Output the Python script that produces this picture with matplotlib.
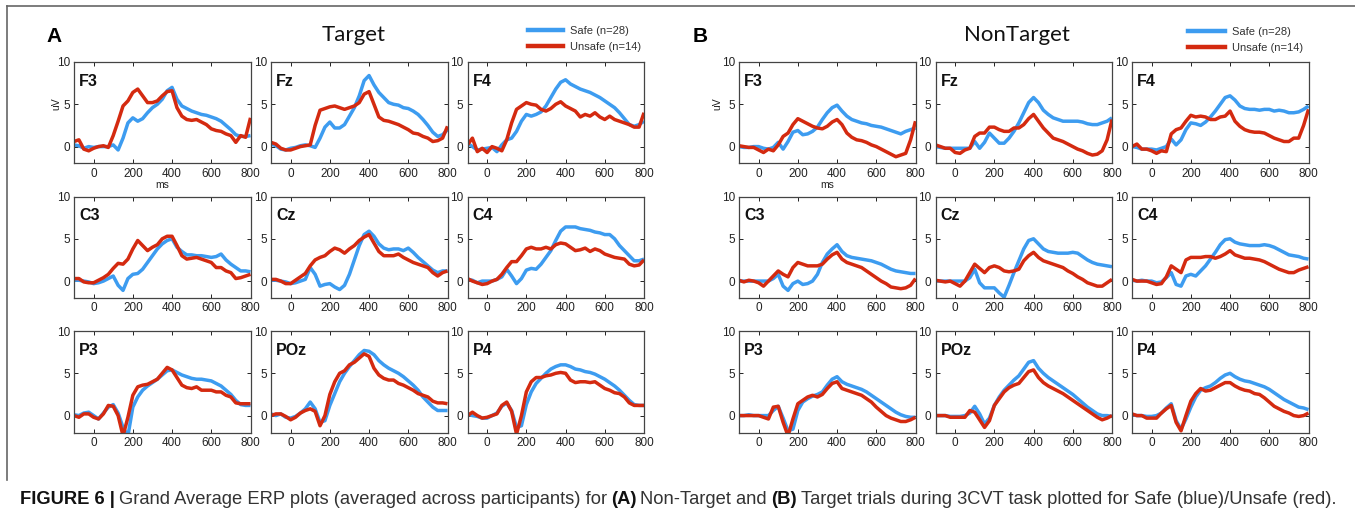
import matplotlib
matplotlib.use('Agg')
import matplotlib.pyplot as plt
from matplotlib.lines import Line2D
from matplotlib import font_manager

# time axis (ms), one value every 25 ms
t_ms = list(range(-100, 801, 25))

electrodes = ['F3', 'Fz', 'F4', 'C3', 'Cz', 'C4', 'P3', 'POz', 'P4']

# ---------------- Target (panel A) ----------------
tgt_F3_safe = [0.2, 0.1, -0.2, 0.0, -0.1, 0.0, 0.0, 0.0, 0.2,
               -0.4, 1.0, 2.8, 3.4, 3.0, 3.3, 4.0, 4.6, 5.0,
               5.6, 6.6, 7.0, 5.6, 4.8, 4.5, 4.2, 4.0, 3.8,
               3.7, 3.5, 3.3, 3.0, 2.5, 2.0, 1.4, 1.2, 1.2,
               1.3]
tgt_F3_unsafe = [0.6, 0.8, -0.3, -0.5, -0.2, 0.0, 0.1, -0.1, 1.3,
                 3.0, 4.8, 5.4, 6.4, 6.8, 6.0, 5.2, 5.2, 5.4,
                 6.0, 6.5, 6.6, 4.6, 3.6, 3.2, 3.1, 3.2, 2.9,
                 2.6, 2.1, 1.9, 1.8, 1.5, 1.3, 0.5, 1.3, 1.1,
                 3.4]
tgt_Fz_safe = [0.3, 0.1, -0.3, -0.4, -0.2, -0.1, 0.1, 0.2, 0.1,
               -0.1, 1.0, 2.3, 2.9, 2.2, 2.2, 2.6, 3.6, 4.6,
               6.0, 7.8, 8.4, 7.3, 6.4, 5.8, 5.2, 5.0, 4.9,
               4.6, 4.5, 4.2, 3.8, 3.2, 2.5, 1.7, 1.2, 1.4,
               2.0]
tgt_Fz_unsafe = [0.5, 0.3, -0.2, -0.4, -0.4, -0.2, 0.0, 0.1, 0.2,
                 2.5, 4.3, 4.5, 4.7, 4.8, 4.6, 4.4, 4.6, 4.8,
                 5.2, 6.2, 6.5, 5.0, 3.5, 3.1, 3.0, 2.8, 2.6,
                 2.3, 2.0, 1.6, 1.5, 1.2, 1.0, 0.6, 0.7, 1.0,
                 2.4]
tgt_F4_safe = [0.4, 0.0, -0.4, -0.3, -0.2, -0.1, -0.6, 0.2, 0.8,
               1.0, 1.8, 3.0, 3.8, 3.6, 3.8, 4.1, 4.8, 5.8,
               6.8, 7.6, 7.9, 7.4, 7.1, 6.8, 6.6, 6.4, 6.1,
               5.8, 5.4, 5.0, 4.6, 4.0, 3.3, 2.6, 2.4, 2.6,
               3.0]
tgt_F4_unsafe = [0.2, 1.0, -0.6, -0.2, -0.7, 0.0, -0.2, -0.5, 0.8,
                 2.8, 4.4, 4.8, 5.2, 5.0, 4.9, 4.4, 4.2, 4.5,
                 5.0, 5.3, 4.8, 4.5, 4.2, 3.5, 3.8, 3.6, 4.0,
                 3.5, 3.2, 3.6, 3.2, 3.0, 2.8, 2.6, 2.3, 2.3,
                 4.0]
tgt_C3_safe = [0.1, 0.1, 0.0, -0.1, -0.3, -0.2, 0.0, 0.3, 0.6,
               -0.5, -1.1, 0.3, 0.8, 0.9, 1.4, 2.2, 3.0, 3.8,
               4.4, 4.8, 5.0, 4.0, 3.5, 3.1, 3.1, 3.0, 3.0,
               2.9, 2.8, 2.9, 3.2, 2.5, 2.0, 1.6, 1.2, 1.2,
               1.1]
tgt_C3_unsafe = [0.3, 0.3, -0.1, -0.2, -0.2, 0.1, 0.4, 0.8, 1.5,
                 2.1, 2.0, 2.6, 3.8, 4.8, 4.2, 3.6, 4.0, 4.3,
                 5.0, 5.3, 5.3, 4.2, 3.0, 2.6, 2.7, 2.8, 2.6,
                 2.4, 2.2, 1.6, 1.6, 1.2, 1.0, 0.3, 0.4, 0.6,
                 0.8]
tgt_Cz_safe = [0.1, 0.1, 0.0, -0.1, -0.3, -0.2, 0.0, 0.2, 1.6,
               0.8, -0.6, -0.4, -0.3, -0.7, -1.0, -0.5, 0.8, 2.5,
               4.2, 5.5, 5.9, 5.3, 4.4, 3.9, 3.7, 3.8, 3.8,
               3.6, 3.9, 3.4, 2.8, 2.3, 1.8, 1.3, 1.0, 1.2,
               1.2]
tgt_Cz_unsafe = [0.2, 0.2, 0.0, -0.3, -0.3, 0.1, 0.5, 0.9, 1.8,
                 2.5, 2.8, 3.0, 3.5, 3.9, 3.7, 3.3, 3.8, 4.2,
                 4.8, 5.2, 5.5, 4.5, 3.5, 3.0, 3.0, 3.0, 3.2,
                 2.8, 2.5, 2.2, 2.0, 1.8, 1.6, 1.0, 0.6, 1.0,
                 1.2]
tgt_C4_safe = [0.2, 0.1, -0.2, 0.0, 0.0, 0.0, 0.2, 0.5, 1.4,
               0.6, -0.3, 0.3, 1.3, 1.5, 1.4, 2.0, 2.8, 3.6,
               4.8, 5.9, 6.4, 6.4, 6.4, 6.2, 6.1, 6.0, 5.8,
               5.7, 5.5, 5.5, 5.0, 4.2, 3.6, 3.0, 2.4, 2.4,
               2.6]
tgt_C4_unsafe = [0.3, 0.0, -0.2, -0.4, -0.3, 0.0, 0.2, 0.8, 1.6,
                 2.3, 2.3, 3.0, 3.8, 4.0, 3.8, 3.8, 4.0, 3.8,
                 4.3, 4.5, 4.4, 4.0, 3.6, 3.7, 3.9, 3.5, 3.8,
                 3.6, 3.2, 3.0, 2.8, 2.7, 2.6, 2.0, 1.8, 1.9,
                 2.5]
tgt_P3_safe = [0.1, 0.0, 0.3, 0.4, 0.0, -0.4, 0.3, 1.0, 1.3,
               0.3, -1.4, -2.4, 1.0, 2.2, 3.0, 3.5, 3.9, 4.3,
               4.8, 5.3, 5.4, 5.1, 4.8, 4.6, 4.4, 4.3, 4.3,
               4.2, 4.1, 3.8, 3.5, 3.0, 2.5, 1.8, 1.3, 1.2,
               1.2]
tgt_P3_unsafe = [0.0, -0.2, 0.2, 0.2, -0.2, -0.4, 0.2, 1.2, 1.1,
                 0.0, -2.4, -0.2, 2.4, 3.4, 3.6, 3.7, 4.0, 4.3,
                 5.0, 5.7, 5.4, 4.5, 3.6, 3.3, 3.2, 3.4, 3.0,
                 3.0, 3.0, 2.8, 2.8, 2.4, 2.2, 1.5, 1.4, 1.4,
                 1.4]
tgt_POz_safe = [0.2, 0.0, 0.2, -0.2, -0.3, -0.1, 0.3, 0.8, 1.6,
                0.8, -0.8, -0.6, 1.2, 2.6, 4.0, 5.0, 5.8, 6.5,
                7.2, 7.7, 7.6, 7.2, 6.5, 6.0, 5.6, 5.3, 5.0,
                4.6, 4.1, 3.6, 3.0, 2.2, 1.6, 1.0, 0.6, 0.6,
                0.6]
tgt_POz_unsafe = [0.0, 0.2, 0.2, -0.1, -0.5, -0.2, 0.3, 0.6, 0.8,
                  0.5, -1.2, 0.0, 2.5, 4.0, 5.0, 5.3, 6.0, 6.3,
                  6.8, 7.3, 7.0, 5.6, 4.8, 4.4, 4.2, 4.2, 3.8,
                  3.6, 3.3, 3.0, 2.6, 2.4, 2.2, 1.7, 1.5, 1.5,
                  1.4]
tgt_P4_safe = [0.2, 0.0, -0.1, -0.3, -0.3, 0.0, 0.3, 1.1, 1.5,
               0.6, -1.4, -1.2, 1.3, 2.8, 3.8, 4.4, 5.0, 5.5,
               5.8, 6.0, 6.0, 5.8, 5.5, 5.4, 5.2, 5.1, 4.9,
               4.6, 4.3, 3.9, 3.5, 3.0, 2.4, 1.8, 1.3, 1.2,
               1.2]
tgt_P4_unsafe = [0.0, 0.4, 0.0, -0.3, -0.2, 0.0, 0.2, 1.2, 1.6,
                 0.5, -2.2, 0.0, 2.8, 4.0, 4.5, 4.5, 4.7, 4.8,
                 5.0, 5.1, 5.0, 4.2, 3.9, 4.0, 4.0, 3.9, 4.0,
                 3.6, 3.2, 3.0, 2.7, 2.6, 2.2, 1.5, 1.2, 1.2,
                 1.2]

# ---------------- NonTarget (panel B) ----------------
nt_F3_safe = [0.0, -0.1, -0.1, 0.0, 0.0, -0.2, -0.3, -0.1, 0.5,
              -0.3, 0.6, 1.7, 1.9, 1.4, 1.5, 1.8, 2.3, 3.2,
              4.0, 4.6, 4.9, 4.2, 3.6, 3.2, 3.0, 2.8, 2.7,
              2.5, 2.4, 2.3, 2.1, 1.9, 1.7, 1.5, 1.8, 2.0,
              2.2]
nt_F3_unsafe = [0.1, 0.0, -0.1, -0.1, -0.4, -0.7, -0.3, -0.5, 0.2,
                1.2, 1.6, 2.6, 3.3, 3.0, 2.7, 2.4, 2.2, 2.1,
                2.4, 2.9, 3.2, 2.6, 1.6, 1.1, 0.8, 0.7, 0.5,
                0.2, 0.0, -0.3, -0.6, -0.9, -1.2, -1.0, -0.8, 0.8,
                3.0]
nt_Fz_safe = [0.0, -0.1, -0.2, -0.2, -0.2, -0.2, -0.2, -0.2, 0.6,
              -0.2, 0.5, 1.6, 1.0, 0.4, 0.4, 1.0, 1.8, 2.8,
              4.0, 5.2, 5.8, 5.2, 4.3, 3.8, 3.4, 3.2, 3.0,
              3.0, 3.0, 3.0, 2.9, 2.7, 2.6, 2.6, 2.8, 3.0,
              3.4]
nt_Fz_unsafe = [0.2, 0.0, -0.2, -0.2, -0.7, -0.8, -0.4, -0.2, 1.2,
                1.6, 1.6, 2.3, 2.3, 2.0, 1.8, 1.8, 2.2, 2.2,
                2.6, 3.3, 3.8, 3.0, 2.2, 1.6, 1.0, 0.8, 0.6,
                0.3, 0.0, -0.3, -0.5, -0.8, -1.0, -0.9, -0.5, 0.8,
                3.2]
nt_F4_safe = [0.0, -0.1, -0.3, -0.3, -0.3, -0.4, -0.2, 0.0, 0.9,
              0.2, 0.8, 2.0, 2.8, 2.7, 2.5, 2.9, 3.5, 4.2,
              5.0, 5.8, 6.0, 5.5, 4.8, 4.5, 4.4, 4.4, 4.3,
              4.4, 4.4, 4.2, 4.3, 4.2, 4.0, 4.0, 4.1, 4.4,
              4.8]
nt_F4_unsafe = [0.0, 0.3, -0.3, -0.3, -0.5, -0.8, -0.5, -0.6, 1.5,
                2.0, 2.2, 3.0, 3.7, 3.5, 3.6, 3.5, 3.2, 3.2,
                3.5, 3.6, 4.2, 3.0, 2.4, 2.0, 1.8, 1.7, 1.7,
                1.6, 1.3, 1.0, 0.8, 0.6, 0.6, 1.0, 1.0, 2.5,
                4.4]
nt_C3_safe = [0.0, 0.0, 0.0, 0.0, 0.0, 0.0, 0.0, 0.3, 0.8,
              -0.6, -1.1, -0.3, 0.0, -0.4, -0.3, 0.0, 0.8, 2.2,
              3.2, 3.8, 4.3, 3.5, 3.0, 2.8, 2.7, 2.6, 2.5,
              2.4, 2.2, 2.0, 1.7, 1.4, 1.2, 1.1, 1.0, 0.9,
              0.9]
nt_C3_unsafe = [0.1, -0.1, 0.1, 0.0, -0.2, -0.6, 0.0, 0.6, 1.2,
                0.8, 0.5, 1.6, 2.2, 2.0, 1.8, 1.8, 1.8, 2.0,
                2.6, 3.1, 3.4, 2.6, 2.2, 2.0, 1.8, 1.6, 1.2,
                0.8, 0.4, 0.0, -0.3, -0.7, -0.8, -0.9, -0.8, -0.5,
                0.3]
nt_Cz_safe = [0.0, 0.0, 0.0, 0.0, 0.0, 0.0, 0.0, 0.4, 1.4,
              -0.2, -0.8, -0.8, -0.8, -1.4, -1.9, -0.5, 1.0, 2.4,
              3.8, 4.8, 5.0, 4.4, 3.8, 3.5, 3.4, 3.3, 3.3,
              3.3, 3.4, 3.3, 2.9, 2.5, 2.2, 2.0, 1.9, 1.8,
              1.7]
nt_Cz_unsafe = [0.1, 0.0, -0.1, 0.0, -0.3, -0.6, 0.0, 1.0, 2.0,
                1.5, 1.0, 1.6, 1.8, 1.6, 1.2, 1.1, 1.2, 1.4,
                2.4, 3.0, 3.4, 2.8, 2.4, 2.2, 2.0, 1.8, 1.6,
                1.2, 0.9, 0.5, 0.2, -0.2, -0.4, -0.6, -0.6, -0.2,
                0.2]
nt_C4_safe = [0.1, 0.0, 0.1, 0.0, 0.0, -0.2, -0.1, 0.4, 1.0,
              -0.4, -0.6, 0.6, 0.8, 0.6, 1.2, 1.8, 2.6, 3.4,
              4.3, 4.9, 5.0, 4.6, 4.4, 4.3, 4.2, 4.2, 4.2,
              4.3, 4.2, 4.0, 3.7, 3.4, 3.1, 3.0, 2.9, 2.7,
              2.6]
nt_C4_unsafe = [0.2, 0.0, 0.0, 0.0, -0.2, -0.4, -0.3, 0.5, 1.8,
                1.4, 1.0, 2.5, 2.8, 2.8, 2.8, 2.9, 2.9, 2.7,
                2.9, 3.2, 3.6, 3.1, 2.9, 2.7, 2.7, 2.6, 2.5,
                2.3, 2.0, 1.7, 1.4, 1.2, 1.0, 1.0, 1.3, 1.5,
                1.7]
nt_P3_safe = [0.0, 0.0, 0.1, 0.0, 0.0, 0.0, 0.0, 0.6, 1.1,
              -0.3, -1.8, -1.6, 0.6, 1.6, 2.0, 2.3, 2.5, 2.8,
              3.6, 4.3, 4.6, 4.0, 3.7, 3.5, 3.3, 3.1, 2.8,
              2.4, 2.0, 1.6, 1.2, 0.8, 0.4, 0.1, -0.1, -0.2,
              -0.2]
nt_P3_unsafe = [0.0, 0.0, 0.0, 0.0, 0.0, -0.2, -0.4, 1.0, 1.1,
                -0.8, -2.4, -0.4, 1.4, 1.8, 2.2, 2.4, 2.2, 2.5,
                3.2, 3.8, 4.0, 3.2, 3.0, 2.8, 2.6, 2.4, 2.0,
                1.6, 1.0, 0.5, 0.0, -0.3, -0.5, -0.7, -0.7, -0.5,
                -0.2]
nt_POz_safe = [0.0, 0.0, 0.0, -0.1, -0.1, -0.1, 0.0, 0.3, 1.1,
               0.2, -1.0, -0.3, 1.2, 2.2, 3.0, 3.6, 4.2, 4.7,
               5.5, 6.3, 6.5, 5.6, 5.0, 4.5, 4.1, 3.7, 3.3,
               2.9, 2.5, 2.0, 1.5, 1.0, 0.6, 0.2, 0.0, 0.0,
               -0.1]
nt_POz_unsafe = [0.0, 0.0, 0.0, -0.2, -0.2, -0.2, -0.2, 0.6, 0.4,
                 -0.5, -1.4, -0.6, 1.2, 2.0, 2.8, 3.3, 3.6, 3.8,
                 4.5, 5.2, 5.4, 4.5, 3.9, 3.5, 3.2, 2.9, 2.6,
                 2.2, 1.8, 1.4, 1.0, 0.6, 0.2, -0.2, -0.5, -0.3,
                 0.0]
nt_P4_safe = [0.1, 0.0, 0.0, -0.1, -0.1, 0.0, 0.3, 0.9, 1.4,
              -0.6, -1.6, -0.4, 1.0, 2.2, 3.0, 3.3, 3.5, 3.9,
              4.4, 4.8, 5.0, 4.6, 4.3, 4.1, 4.0, 3.8, 3.6,
              3.4, 3.1, 2.7, 2.3, 1.9, 1.6, 1.3, 1.0, 0.9,
              0.7]
nt_P4_unsafe = [0.2, 0.0, 0.0, -0.3, -0.3, -0.3, 0.3, 0.8, 1.2,
                -0.8, -1.8, 0.0, 1.7, 2.6, 3.2, 2.9, 3.0, 3.3,
                3.6, 3.9, 3.9, 3.5, 3.2, 3.0, 2.9, 2.6, 2.5,
                2.1, 1.6, 1.1, 0.8, 0.5, 0.3, 0.0, -0.1, 0.0,
                0.3]

target = {
    'F3': (tgt_F3_safe, tgt_F3_unsafe), 'Fz': (tgt_Fz_safe, tgt_Fz_unsafe),
    'F4': (tgt_F4_safe, tgt_F4_unsafe), 'C3': (tgt_C3_safe, tgt_C3_unsafe),
    'Cz': (tgt_Cz_safe, tgt_Cz_unsafe), 'C4': (tgt_C4_safe, tgt_C4_unsafe),
    'P3': (tgt_P3_safe, tgt_P3_unsafe), 'POz': (tgt_POz_safe, tgt_POz_unsafe),
    'P4': (tgt_P4_safe, tgt_P4_unsafe),
}
nontarget = {
    'F3': (nt_F3_safe, nt_F3_unsafe), 'Fz': (nt_Fz_safe, nt_Fz_unsafe),
    'F4': (nt_F4_safe, nt_F4_unsafe), 'C3': (nt_C3_safe, nt_C3_unsafe),
    'Cz': (nt_Cz_safe, nt_Cz_unsafe), 'C4': (nt_C4_safe, nt_C4_unsafe),
    'P3': (nt_P3_safe, nt_P3_unsafe), 'POz': (nt_POz_safe, nt_POz_unsafe),
    'P4': (nt_P4_safe, nt_P4_unsafe),
}

legend_labels = ['Safe (n=28)', 'Unsafe (n=14)']
caption_parts = [('FIGURE 6 |', 'bold'),
                 ('Grand Average ERP plots (averaged across participants) for', 'normal'),
                 ('(A)', 'bold'),
                 ('Non-Target and', 'normal'),
                 ('(B)', 'bold'),
                 ('Target trials during 3CVT task plotted for Safe (blue)/Unsafe (red).', 'normal')]

blue = '#3d9cf0'
red = '#d42a10'

W, H = 1355, 521
fig = plt.figure(figsize=(W / 100, H / 100), dpi=100)
fig.patch.set_facecolor('white')

avail = {f.name for f in font_manager.fontManager.ttflist}
sans = 'Liberation Sans' if 'Liberation Sans' in avail else 'DejaVu Sans'
narrow = 'Liberation Sans Narrow' if 'Liberation Sans Narrow' in avail else sans
title_font = 'Lato' if 'Lato' in avail else sans
plt.rcParams['font.family'] = sans


def fx(x):
    return x / W


def fy(y):
    return 1 - y / H


ax_w, ax_h = 176.5, 101.5
row_tops = [62, 196.5, 331]


def draw_panel(col_lefts, series, ulabel_x):
    for k, name in enumerate(electrodes):
        r, c = divmod(k, 3)
        left, top = col_lefts[c], row_tops[r]
        ax = fig.add_axes([fx(left), fy(top + ax_h), ax_w / W, ax_h / H])
        safe, unsafe = series[name]
        ax.plot(t_ms, safe, color=blue, lw=2.5, solid_capstyle='butt')
        ax.plot(t_ms, unsafe, color=red, lw=2.5, solid_capstyle='butt')
        ax.set_xlim(-100, 800)
        ax.set_ylim(-2, 10)
        ax.set_xticks([0, 200, 400, 600, 800])
        ax.set_yticks([0, 5, 10])
        ax.tick_params(direction='in', top=True, right=True, length=3,
                       width=0.7, labelsize=8.5, pad=3, colors='#222')
        for s in ax.spines.values():
            s.set_color('#444')
            s.set_linewidth(0.9)
        ax.text(0.03, 0.81, name, transform=ax.transAxes, fontsize=11.5,
                fontweight='bold', va='center', ha='left', color='#111')
        if k == 0:
            ax.text(ulabel_x, 0.59, 'uV', transform=ax.transAxes, rotation=90,
                    fontsize=7.5, va='center', ha='center', color='#222')
            ax.text(0.5, -0.21, 'ms', transform=ax.transAxes, fontsize=7.5,
                    va='center', ha='center', color='#222')


draw_panel([74, 271, 467.5], target, -0.10)
draw_panel([739, 935.5, 1132], nontarget, -0.125)

# panel letters and titles
fig.text(fx(54), fy(37), 'A', fontsize=15, fontweight='bold', ha='center', va='center')
fig.text(fx(700), fy(37), 'B', fontsize=15, fontweight='bold', ha='center', va='center')
fig.text(fx(354), fy(35), 'Target', fontsize=16, family=title_font,
         ha='center', va='center', color='#111')
fig.text(fx(1017), fy(35), 'NonTarget', fontsize=16, family=title_font,
         ha='center', va='center', color='#111')

# legends
for x0, x1, tx, ys in [(528, 563, 570, (30, 46)), (1188, 1225, 1232, (31, 47))]:
    for y, col, lab in zip(ys, [blue, red], legend_labels):
        fig.add_artist(Line2D([fx(x0), fx(x1)], [fy(y), fy(y)], color=col, lw=3.2))
        fig.text(fx(tx), fy(y + 1), lab, fontsize=8, va='center', ha='left', color='#333')

# outer frame (left and top rules)
fig.add_artist(Line2D([fx(7), fx(7)], [fy(6), fy(480)], color='#666', lw=1.2))
fig.add_artist(Line2D([fx(7), fx(1355)], [fy(6), fy(6)], color='#666', lw=1.2))

# caption, fitted between x=20 and x=1340
renderer = fig.canvas.get_renderer()


def place_caption(size):
    arts = []
    x = 20
    for txt, wt in caption_parts:
        t = fig.text(fx(x), fy(500), txt, fontsize=size, fontweight=wt,
                     family=narrow, va='center', ha='left',
                     color='#111' if wt == 'bold' else '#333')
        arts.append(t)
        x += t.get_window_extent(renderer).width + size * 0.3
    return arts, x - size * 0.3


arts, end = place_caption(11)
scale = (1340 - 20) / (end - 20)
for a in arts:
    a.remove()
place_caption(11 * scale)

fig.savefig('out.png', dpi=100, facecolor='white')
